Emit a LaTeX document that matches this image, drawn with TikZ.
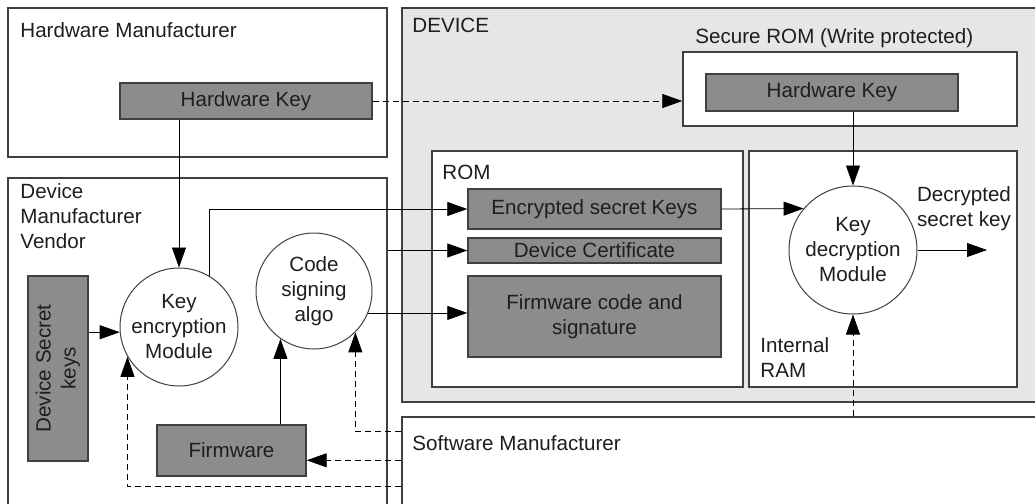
\documentclass[tikz,border=0pt]{standalone}
\usepackage{fontspec}
\setmainfont{Liberation Sans}
\usetikzlibrary{arrows.meta,calc}

\definecolor{boxline}{RGB}{64,64,64}
\definecolor{keygray}{RGB}{140,140,140}
\definecolor{devgray}{RGB}{230,230,230}
\definecolor{txt}{RGB}{30,30,30}

\begin{document}
\begin{tikzpicture}[x=0.5pt,y=-0.5pt]
\tikzset{
	region/.style={rectangle, draw=boxline, line width=0.7pt, inner sep=0pt},
	g/.style={rectangle, draw=boxline, fill=keygray, line width=0.7pt, inner sep=0pt, text=txt, align=center},
	m/.style={circle, draw=boxline, fill=white, line width=0.5pt, inner sep=0pt, minimum size=#1, align=center, text=txt},
	l/.style={inner sep=0pt, text=txt},
	every node/.style={font=\fontsize{10.3}{12.5}\selectfont},
	>={Triangle[length=10pt,width=7pt]}
}
\clip (0,0) rectangle (1035,504);

% Hardware Manufacturer
\node[region, minimum width=189.5pt, minimum height=74.5pt] (hwm) at (197.5,82.5) {};
\node[l, anchor=base west] (hwm_t) at (20,37) {Hardware Manufacturer};
\node[g, minimum width=126pt, minimum height=18pt] (hwk1) at (246,101) {Hardware Key};

% Device Manufacturer Vendor
\node[region, minimum width=189.5pt, minimum height=180pt] (dmv) at (197.5,358) {};
\node[l, anchor=north west, align=left] (dmv_t) at (20,183) {Device\\Manufacturer\\Vendor};
\node[g, minimum width=30pt, minimum height=92.5pt] (dsk) at (58,368.5)
	{\rotatebox{90}{\begin{tabular}{@{}c@{}}Device Secret\\keys\end{tabular}}};
\node[m=59pt] (kem) at (179,327) {Key\\encryption\\Module};
\node[m=58pt] (csa) at (314,291) {Code\\signing\\algo};
\node[g, minimum width=74.5pt, minimum height=25.5pt] (fw) at (231.5,450.5) {Firmware};

% DEVICE
\node[region, fill=devgray, minimum width=321.5pt, minimum height=197pt] (dev) at (723.5,205) {};
\node[l, anchor=base west] (dev_t) at (412,32) {DEVICE};

% Secure ROM
\node[region, fill=white, minimum width=167pt, minimum height=37pt] (srom) at (850,89) {};
\node[l, anchor=base west] (srom_t) at (695,43) {Secure ROM (Write protected)};
\node[g, minimum width=126pt, minimum height=18.5pt] (hwk2) at (832,92.5) {Hardware Key};

% ROM
\node[region, fill=white, minimum width=155.5pt, minimum height=118pt] (rom) at (587.5,269) {};
\node[l, anchor=base west] (rom_t) at (442,179) {ROM};
\node[g, minimum width=126.5pt, minimum height=20pt] (enc) at (594.5,209) {Encrypted secret Keys};
\node[g, minimum width=126.5pt, minimum height=12.5pt] (cert) at (594.5,250.5) {Device Certificate};
\node[g, minimum width=126.5pt, minimum height=40.5pt] (fwc) at (594.5,316.5) {Firmware code and\\signature};

% Internal RAM
\node[region, fill=white, minimum width=134pt, minimum height=118pt] (ram) at (883,269) {};
\node[l, anchor=north west, align=left] (ram_t) at (760,337) {Internal\\RAM};
\node[m=64pt] (kdm) at (853,250) {Key\\decryption\\Module};
\node[l, align=center] (dsk_t) at (964,209) {Decrypted\\secret key};
\coordinate (dk_out) at (987,250);

% Software Manufacturer
\node[region, fill=white, minimum width=321.5pt, minimum height=61.5pt] (swm) at (723.5,478.5) {};
\node[l, anchor=base west] (swm_t) at (412,450) {Software Manufacturer};
\coordinate (sw1) at ($(swm.north west)+(0,15)$);
\coordinate (sw2) at ($(swm.north west)+(0,44)$);
\coordinate (sw3) at ($(swm.north west)+(0,70)$);

% Verbindungen
\draw[dashed, dash pattern=on 3pt off 2pt, ->] (hwk1.east) -- (srom.west |- hwk1.east);
\draw[->] (kem.north |- hwk1.south) -- (kem.north);
\draw[->] (kdm.north |- hwk2.south) -- (kdm.north);
\draw[->] (kem.59) |- (enc.west);
\draw[->] (dmv.east |- cert.west) -- (cert.west);
\draw[->] (csa.-22) -- (csa.-22 -| fwc.west);
\draw[->] (dsk.east |- kem.185) -- (kem.185);
\draw[->] (csa.235 |- fw.north) -- (csa.235);
\draw[->] (enc.east) -- (kdm.140);
\draw[->] (kdm.east) -- (dk_out);

% Software Manufacturer -- gestrichelt
\draw[dashed, dash pattern=on 3pt off 2pt, ->] (sw1) -| (csa.-45);
\draw[dashed, dash pattern=on 3pt off 2pt, ->] (sw2) -- (sw2 -| fw.east);
\draw[dashed, dash pattern=on 3pt off 2pt, ->] (sw3) -| (kem.210);
\draw[dashed, dash pattern=on 3pt off 2pt, ->] (kdm.south |- swm.north) -- (kdm.south);

\end{tikzpicture}
\end{document}
